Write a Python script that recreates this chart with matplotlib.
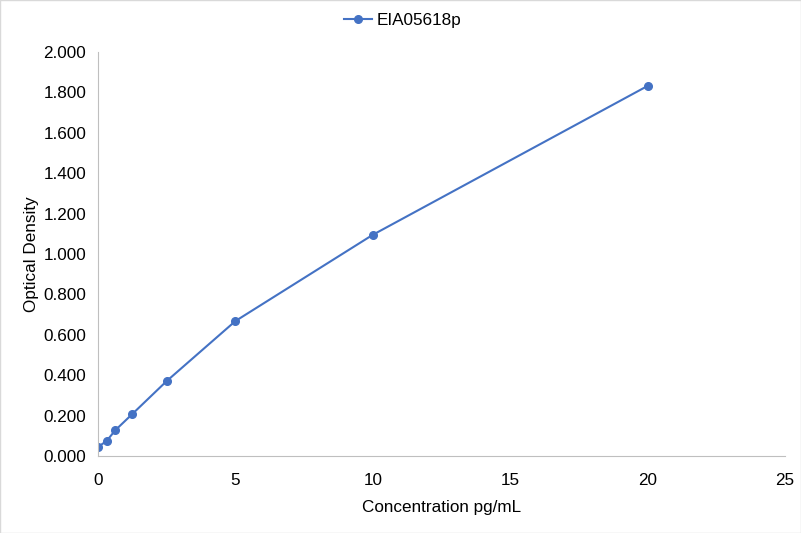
import matplotlib.pyplot as plt
from matplotlib.ticker import FormatStrFormatter

plt.rcParams['font.family'] = ['Liberation Sans', 'DejaVu Sans']

conc = [0, 0.3125, 0.625, 1.25, 2.5, 5, 10, 20]
od = [0.045, 0.074, 0.127, 0.208, 0.371, 0.668, 1.095, 1.832]
series_name = 'EIA05618p'

fig = plt.figure(figsize=(8.01, 5.33), dpi=100)
ax = fig.add_axes([98 / 801, 1 - 456 / 533, (785 - 98) / 801, (456 - 52) / 533])

line_color = '#4472C4'
ax.plot(conc, od, color=line_color, marker='o', markersize=5.5, linewidth=1.5, label=series_name)

ax.set_xlim(0, 25)
ax.set_ylim(0, 2.0)
ax.set_xticks([0, 5, 10, 15, 20, 25])
ax.set_yticks([0, 0.2, 0.4, 0.6, 0.8, 1.0, 1.2, 1.4, 1.6, 1.8, 2.0])
ax.yaxis.set_major_formatter(FormatStrFormatter('%.3f'))

for side in ['top', 'right']:
    ax.spines[side].set_visible(False)
for side in ['left', 'bottom']:
    ax.spines[side].set_color('#BFBFBF')
ax.tick_params(length=0, labelsize=12.3, colors='#000000')
ax.tick_params(axis='y', pad=8.5)
ax.tick_params(axis='x', pad=12)
ax.set_xlabel('Concentration pg/mL', fontsize=12.3, labelpad=9)
ax.set_ylabel('Optical Density', fontsize=12.3, labelpad=3)

fig.legend(loc='center', bbox_to_anchor=(0.503, 1 - 20 / 533), frameon=False, fontsize=12.3,
           handlelength=1.6, handletextpad=0.3)

border = plt.Rectangle((0, 0), 1, 1, transform=fig.transFigure, fill=False,
                       edgecolor='#D9D9D9', linewidth=1)
fig.patches.append(border)

fig.savefig('out.png', dpi=100)
